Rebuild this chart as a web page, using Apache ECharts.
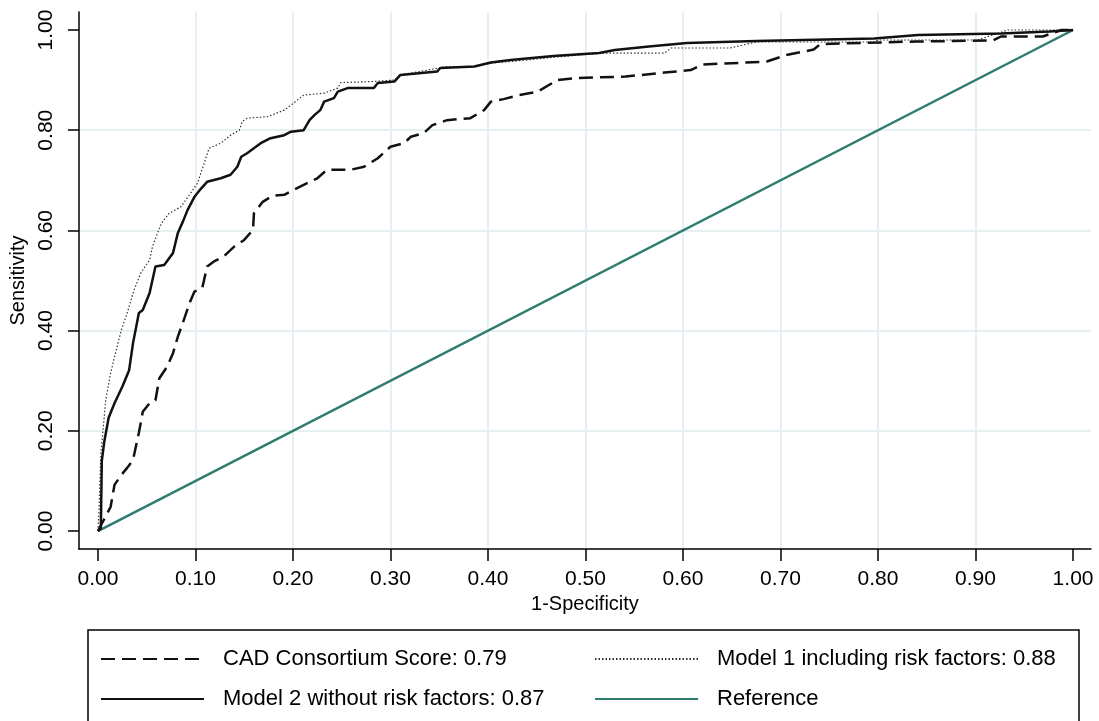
<!DOCTYPE html>
<html>
<head>
<meta charset="utf-8">
<script src="https://cdn.jsdelivr.net/npm/echarts@6/dist/echarts.min.js"></script>
<style>
  html, body { margin: 0; padding: 0; background: #fff; }
  #chart { width: 1099px; height: 721px; }
</style>
</head>
<body>
<div id="chart"></div>
<script>
// tick positions for each axis
const xTickValues = [0, 0.1, 0.2, 0.3, 0.4, 0.5, 0.6, 0.7, 0.8, 0.9, 1.0]
const yTickValues = [0, 0.2, 0.4, 0.6, 0.8, 1.0]

// [1-specificity, sensitivity]
const cadScore = [
  [0, 0], [0.006, 0.022], [0.013, 0.048], [0.017, 0.092], [0.024, 0.112], [0.030, 0.126],
  [0.036, 0.142], [0.042, 0.196], [0.046, 0.238], [0.053, 0.255], [0.059, 0.261], [0.063, 0.305],
  [0.071, 0.328], [0.077, 0.355], [0.082, 0.388], [0.087, 0.415], [0.094, 0.455], [0.099, 0.478],
  [0.107, 0.485], [0.112, 0.528], [0.119, 0.538], [0.129, 0.548], [0.140, 0.568], [0.150, 0.581],
  [0.159, 0.601], [0.160, 0.634], [0.169, 0.657], [0.179, 0.669], [0.191, 0.671], [0.201, 0.681],
  [0.211, 0.691], [0.225, 0.704], [0.235, 0.721], [0.259, 0.721], [0.273, 0.727], [0.287, 0.744],
  [0.300, 0.767], [0.314, 0.774], [0.321, 0.787], [0.334, 0.794], [0.343, 0.810], [0.358, 0.820],
  [0.382, 0.824], [0.396, 0.840], [0.403, 0.857], [0.416, 0.862], [0.432, 0.870], [0.451, 0.877],
  [0.471, 0.900], [0.490, 0.904], [0.541, 0.907], [0.581, 0.915], [0.608, 0.920], [0.620, 0.931],
  [0.686, 0.937], [0.706, 0.950], [0.734, 0.961], [0.741, 0.972], [0.839, 0.977], [0.918, 0.979],
  [0.926, 0.987], [0.969, 0.987], [0.988, 1.0], [1, 1]
]

const model1 = [
  [0, 0], [0.001, 0.036], [0.003, 0.155], [0.005, 0.196], [0.008, 0.261], [0.013, 0.315],
  [0.018, 0.355], [0.024, 0.401], [0.030, 0.435], [0.037, 0.481], [0.044, 0.515], [0.053, 0.541],
  [0.056, 0.568], [0.065, 0.614], [0.073, 0.634], [0.085, 0.647], [0.095, 0.674], [0.102, 0.694],
  [0.109, 0.734], [0.114, 0.764], [0.126, 0.774], [0.136, 0.790], [0.145, 0.800], [0.148, 0.817],
  [0.153, 0.824], [0.174, 0.827], [0.191, 0.840], [0.198, 0.850], [0.211, 0.870], [0.232, 0.874],
  [0.246, 0.884], [0.249, 0.895], [0.280, 0.897], [0.304, 0.900], [0.310, 0.910], [0.358, 0.927],
  [0.386, 0.927], [0.403, 0.934], [0.423, 0.937], [0.470, 0.946], [0.518, 0.954], [0.581, 0.954],
  [0.588, 0.964], [0.648, 0.964], [0.675, 0.976], [0.796, 0.976], [0.800, 0.980], [0.902, 0.980],
  [0.933, 1.0], [1, 1]
]

const model2 = [
  [0, 0], [0.003, 0.005], [0.004, 0.140], [0.0065, 0.178], [0.011, 0.226], [0.017, 0.255],
  [0.025, 0.288], [0.032, 0.321], [0.036, 0.375], [0.042, 0.435], [0.046, 0.441], [0.053, 0.475],
  [0.059, 0.528], [0.068, 0.531], [0.077, 0.555], [0.082, 0.595], [0.087, 0.617], [0.092, 0.641],
  [0.099, 0.667], [0.106, 0.684], [0.112, 0.697], [0.126, 0.704], [0.136, 0.711], [0.143, 0.727],
  [0.147, 0.747], [0.153, 0.754], [0.162, 0.767], [0.167, 0.774], [0.177, 0.784], [0.191, 0.790],
  [0.198, 0.797], [0.211, 0.800], [0.217, 0.820], [0.222, 0.830], [0.228, 0.840], [0.232, 0.857],
  [0.242, 0.864], [0.246, 0.877], [0.256, 0.884], [0.283, 0.884], [0.287, 0.894], [0.304, 0.897],
  [0.310, 0.910], [0.348, 0.917], [0.351, 0.924], [0.386, 0.927], [0.403, 0.935], [0.423, 0.940],
  [0.467, 0.948], [0.514, 0.954], [0.530, 0.960], [0.565, 0.967], [0.604, 0.974], [0.675, 0.978],
  [0.796, 0.983], [0.841, 0.990], [0.926, 0.993], [0.976, 0.997], [1, 1]
]

const referenceLine = [[0, 0], [1, 1]]

const seriesNames = [
  'CAD Consortium Score: 0.79',
  'Model 1 including risk factors: 0.88',
  'Model 2 without risk factors: 0.87',
  'Reference'
]

const font = 'Liberation Sans, Arial, sans-serif'
const gridColor = '#e6eff1'
const refColor = '#2f7b6f'

const chart = echarts.init(document.getElementById('chart'))

const lineSeries = (name, data, lineStyle, z) => ({
  name,
  type: 'line',
  data,
  symbol: 'none',
  showSymbol: false,
  animation: false,
  z,
  itemStyle: { color: lineStyle.color },
  lineStyle
})

const legendBase = {
  orient: 'vertical',
  top: 648,
  padding: 0,
  itemWidth: 103,
  itemHeight: 22,
  itemGap: 18,
  itemStyle: { opacity: 0, borderWidth: 0 },
  textStyle: { fontFamily: font, fontSize: 22, color: '#000', padding: [0, 0, 0, 14] }
}

const option = {
  backgroundColor: '#fff',
  animation: false,
  grid: {
    left: 78,
    right: 8,
    top: 12,
    bottom: 172
  },
  xAxis: {
    type: 'value',
    min: -0.0195,
    max: 1.0184,
    splitNumber: 10,
    name: '1-Specificity',
    nameLocation: 'middle',
    nameGap: 42,
    nameTextStyle: { fontFamily: font, fontSize: 20, color: '#000' },
    axisLine: { show: true, onZero: false, lineStyle: { color: '#000', width: 1.5 } },
    axisTick: { show: true, length: 12, customValues: xTickValues, lineStyle: { color: '#000', width: 1.5 } },
    axisLabel: {
      customValues: xTickValues,
      margin: 20,
      fontFamily: font,
      fontSize: 21,
      color: '#000',
      formatter: v => v.toFixed(2)
    },
    splitLine: { show: true, showMinLine: false, showMaxLine: false, lineStyle: { color: gridColor, width: 2 } }
  },
  yAxis: {
    type: 'value',
    min: -0.0359,
    max: 1.0359,
    splitNumber: 5,
    name: 'Sensitivity',
    nameLocation: 'middle',
    nameGap: 46,
    nameTextStyle: { fontFamily: font, fontSize: 20, color: '#000' },
    axisLine: { show: true, onZero: false, lineStyle: { color: '#000', width: 1.5 } },
    axisTick: { show: true, length: 11, customValues: yTickValues, lineStyle: { color: '#000', width: 1.5 } },
    axisLabel: {
      customValues: yTickValues,
      rotate: 90,
      margin: 22,
      fontFamily: font,
      fontSize: 21,
      color: '#000',
      formatter: v => v.toFixed(2)
    },
    splitLine: { show: true, showMinLine: false, showMaxLine: false, lineStyle: { color: gridColor, width: 2 } }
  },
  legend: [
    Object.assign({}, legendBase, { left: 100, data: [seriesNames[0], seriesNames[2]] }),
    Object.assign({}, legendBase, { left: 594, data: [seriesNames[1], seriesNames[3]] })
  ],
  graphic: [
    {
      type: 'rect',
      shape: { x: 88, y: 630, width: 991, height: 100 },
      style: { fill: 'none', stroke: '#000', lineWidth: 1.5 },
      silent: true
    }
  ],
  series: [
    lineSeries(seriesNames[3], referenceLine, { color: refColor, width: 2.5, type: 'solid' }, 2),
    lineSeries(seriesNames[0], cadScore, { color: '#111', width: 2.5, type: [14, 7] }, 3),
    lineSeries(seriesNames[1], model1, { color: '#333', width: 1.2, type: [1.5, 2] }, 4),
    lineSeries(seriesNames[2], model2, { color: '#111', width: 2.5, type: 'solid' }, 5)
  ]
}

chart.setOption(option)
</script>
</body>
</html>
